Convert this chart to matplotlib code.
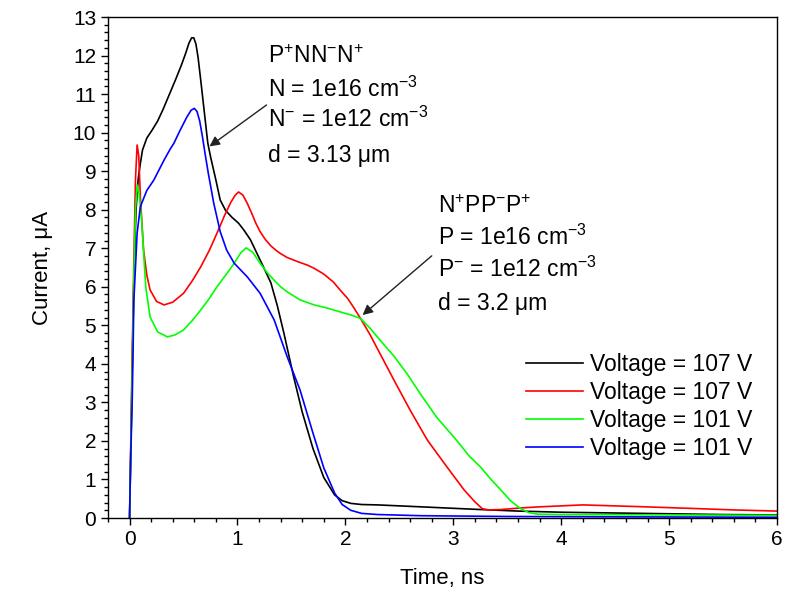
import numpy as np
import matplotlib
matplotlib.use('Agg')
import matplotlib.pyplot as plt
from matplotlib.ticker import MultipleLocator

plt.rcParams['font.family'] = ['Liberation Sans', 'DejaVu Sans']
plt.rcParams['mathtext.fontset'] = 'custom'
plt.rcParams['mathtext.rm'] = 'Liberation Sans'
plt.rcParams['mathtext.it'] = 'Liberation Sans:italic'

# P+NN-N+, 107 V (black)
t_black = [0.0, 0.01, 0.025, 0.04, 0.06, 0.08, 0.10, 0.12, 0.16, 0.21, 0.26, 0.31, 0.37, 0.43,
           0.48, 0.52, 0.55, 0.575, 0.595, 0.615, 0.635, 0.66, 0.69, 0.725, 0.75, 0.80, 0.84, 0.89, 0.95,
           1.01, 1.06, 1.12, 1.18, 1.24, 1.31, 1.37, 1.43, 1.52, 1.6, 1.7, 1.8, 1.9, 1.97, 2.05,
           2.15, 2.3, 2.7, 3.25, 3.6, 4.0, 4.5, 5.0, 5.5, 6.0]
i_black = [0.0, 1.5, 4.0, 6.2, 8.0, 8.8, 9.2, 9.55, 9.86, 10.07, 10.3, 10.6, 11.0, 11.4,
           11.75, 12.06, 12.32, 12.46, 12.46, 12.3, 11.95, 11.35, 10.6, 9.73, 9.38, 8.77, 8.25, 7.98, 7.8,
           7.65, 7.47, 7.22, 6.87, 6.52, 6.1, 5.5, 4.8, 3.67, 2.75, 1.8, 1.05, 0.6, 0.45, 0.38,
           0.35, 0.34, 0.29, 0.22, 0.18, 0.15, 0.13, 0.11, 0.09, 0.08]

# N+PP-P+, 107 V (red)
t_red = [0.0, 0.02, 0.04, 0.055, 0.07, 0.085, 0.10, 0.13, 0.16, 0.19, 0.25, 0.32, 0.4, 0.5,
         0.58, 0.66, 0.74, 0.81, 0.88, 0.94, 0.98, 1.01, 1.05, 1.09, 1.13, 1.17, 1.21, 1.26, 1.31,
         1.36, 1.40, 1.46, 1.56, 1.65, 1.71, 1.80, 1.89, 1.95, 2.02, 2.08, 2.14, 2.23, 2.32,
         2.45, 2.6, 2.76, 2.94, 3.10, 3.2, 3.27, 3.33, 3.44, 3.62, 3.8, 4.2, 4.67, 5.2, 5.6, 6.0]
i_red = [0.0, 3.5, 6.7, 8.8, 9.68, 9.4, 8.34, 6.95, 6.3, 5.92, 5.62, 5.53, 5.6, 5.83,
         6.15, 6.52, 6.95, 7.39, 7.85, 8.2, 8.38, 8.46, 8.38, 8.17, 7.92, 7.65, 7.43, 7.22, 7.06,
         6.94, 6.86, 6.76, 6.65, 6.56, 6.48, 6.33, 6.12, 5.92, 5.7, 5.45, 5.18, 4.75, 4.27,
         3.58, 2.8, 2.02, 1.33, 0.73, 0.42, 0.24, 0.21, 0.22, 0.26, 0.29, 0.34, 0.30, 0.25, 0.21, 0.18]

# N+PP-P+, 101 V (green)
t_green = [0.0, 0.02, 0.04, 0.055, 0.07, 0.09, 0.11, 0.13, 0.15, 0.19, 0.26, 0.35, 0.42, 0.50,
           0.58, 0.66, 0.74, 0.81, 0.89, 0.97, 1.03, 1.08, 1.14, 1.21, 1.28, 1.34, 1.40, 1.46,
           1.58, 1.71, 1.83, 1.95, 2.05, 2.14, 2.23, 2.32, 2.45, 2.57, 2.7, 2.85, 3.03, 3.15,
           3.25, 3.35, 3.44, 3.53, 3.62, 3.7, 3.78, 4.0, 5.0, 6.0]
i_green = [0.0, 3.0, 6.3, 8.0, 8.64, 8.4, 7.8, 6.9, 6.0, 5.22, 4.83, 4.7, 4.75, 4.88,
           5.12, 5.4, 5.7, 6.0, 6.3, 6.61, 6.88, 7.01, 6.9, 6.61, 6.35, 6.17, 6.0, 5.87,
           5.66, 5.53, 5.45, 5.35, 5.27, 5.18, 4.92, 4.62, 4.2, 3.75, 3.2, 2.6, 2.02, 1.6,
           1.33, 1.0, 0.73, 0.45, 0.25, 0.14, 0.1, 0.09, 0.08, 0.07]

# P+NN-N+, 101 V (blue)
t_blue = [0.0, 0.01, 0.025, 0.04, 0.07, 0.10, 0.16, 0.225, 0.32, 0.38, 0.41, 0.47, 0.53, 0.57,
          0.60, 0.625, 0.65, 0.675, 0.70, 0.73, 0.78, 0.84, 0.90, 0.97, 1.09, 1.21, 1.34, 1.46,
          1.58, 1.7, 1.8, 1.9, 1.97, 2.05, 2.15, 2.3, 2.7, 3.5, 4.5, 6.0]
i_blue = [0.0, 1.5, 3.1, 5.66, 7.39, 8.08, 8.5, 8.77, 9.29, 9.59, 9.72, 10.07, 10.4, 10.58,
          10.63, 10.55, 10.3, 9.9, 9.45, 8.94, 8.17, 7.43, 6.95, 6.61, 6.26, 5.83, 5.14, 4.19,
          3.32, 2.2, 1.3, 0.65, 0.35, 0.2, 0.12, 0.09, 0.06, 0.04, 0.03, 0.02]

labels = ['Voltage = 107 V', 'Voltage = 107 V', 'Voltage = 101 V', 'Voltage = 101 V']

fig = plt.figure(figsize=(7.94, 5.91), dpi=100)
ax = fig.add_axes([0.136, 0.1235, 0.8426, 0.8477])

lw = 1.2
ax.plot(t_black, i_black, color='black', lw=lw, label=labels[0])
ax.plot(t_red, i_red, color='#ff0000', lw=lw, label=labels[1])
ax.plot(t_green, i_green, color='#00ff00', lw=lw, label=labels[2])
ax.plot(t_blue, i_blue, color='#0000ff', lw=lw, label=labels[3])

ax.set_xlim(-0.2, 6)
ax.set_ylim(0, 13)
ax.xaxis.set_major_locator(MultipleLocator(1))
ax.xaxis.set_minor_locator(MultipleLocator(0.2))
ax.yaxis.set_major_locator(MultipleLocator(1))
ax.yaxis.set_minor_locator(MultipleLocator(0.2))
ax.tick_params(which='major', direction='out', length=5, width=1, labelsize=15, top=False, right=False)
ax.tick_params(which='minor', direction='out', length=3, width=1, top=False, right=False)
for s in ax.spines.values():
    s.set_linewidth(1.0)

ax.set_xlabel('Time, ns', fontsize=16, labelpad=14)
ax.set_ylabel('Current, μA', fontsize=16, labelpad=14)

fs = 16.5
# annotation for P+NN-N+
txt1 = [r'P$^{+}$NN$^{-}$N$^{+}$', r'N = 1e16 cm$^{-3}$', r'N$^{-}$ = 1e12 cm$^{-3}$', 'd = 3.13 μm']
y1 = [11.81, 10.92, 10.15, 9.24]
for s, y in zip(txt1, y1):
    ax.text(1.28, y, s, fontsize=fs, va='baseline', ha='left')
ax.annotate('', xy=(0.72, 9.6), xytext=(1.29, 10.76),
            arrowprops=dict(arrowstyle='-|>', color='#222222', lw=1.0, mutation_scale=15))

# annotation for N+PP-P+
txt2 = [r'N$^{+}$PP$^{-}$P$^{+}$', r'P = 1e16 cm$^{-3}$', r'P$^{-}$ = 1e12 cm$^{-3}$', 'd = 3.2 μm']
y2 = [7.91, 7.08, 6.25, 5.40]
for s, y in zip(txt2, y2):
    ax.text(2.86, y, s, fontsize=fs, va='baseline', ha='left')
ax.annotate('', xy=(2.14, 5.22), xytext=(2.82, 6.85),
            arrowprops=dict(arrowstyle='-|>', color='#222222', lw=1.0, mutation_scale=15))

ax.legend(loc='lower right', bbox_to_anchor=(0.963, 0.115), frameon=False, fontsize=fs,
          handlelength=2.5, handletextpad=0.3, labelspacing=0.22, borderpad=0, borderaxespad=0)

fig.savefig('out.png', dpi=100)
